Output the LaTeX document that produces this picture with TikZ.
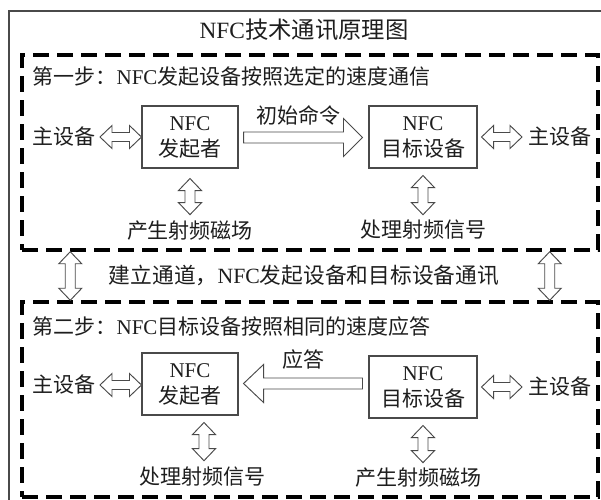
\documentclass[tikz,border=0pt]{standalone}
\usepackage{fontspec}
\setmainfont{Liberation Serif}
\newfontfamily\cjk{Noto Sans CJK SC}
\usetikzlibrary{calc}
\newcommand\zh[1]{{\cjk #1}}
\definecolor{ink}{HTML}{1E1E1E}
\definecolor{lineg}{HTML}{4A4A4A}
\tikzset{
  txt/.style={text=ink, inner sep=1pt, font=\fontsize{15.75}{19.5}\selectfont},
  devbox/.style={draw=lineg, line width=0.8pt, text=ink, align=center, inner sep=0pt,
    minimum height=46.5pt, font=\fontsize{15.75}{19.5}\selectfont},
  dashbox/.style={draw=black, line width=2.6pt, dash pattern=on 12pt off 6pt,
    minimum width=432pt, minimum height=146.25pt, inner sep=0pt},
  arr/.style={draw=lineg, line width=0.7pt, fill=white, line join=miter},
  frameline/.style={draw=lineg, line width=0.8pt}
}
% hollow horizontal double arrow, #1 left end, #2 right end
\newcommand\HDArrow[2]{\draw[arr] (#1) -- ($(#1)+(12,-11.5)$) -- ($(#1)+(12,-4.5)$) -- ($(#2)+(-12,-4.5)$) -- ($(#2)+(-12,-11.5)$) -- (#2) -- ($(#2)+(-12,11.5)$) -- ($(#2)+(-12,4.5)$) -- ($(#1)+(12,4.5)$) -- ($(#1)+(12,11.5)$) -- cycle;}
% hollow vertical double arrow, #1 top end, #2 bottom end
\newcommand\VDArrow[2]{\draw[arr] (#1) -- ($(#1)+(-11.5,12)$) -- ($(#1)+(-5,12)$) -- ($(#2)+(-5,-12)$) -- ($(#2)+(-11.5,-12)$) -- (#2) -- ($(#2)+(11.5,-12)$) -- ($(#2)+(5,-12)$) -- ($(#1)+(5,12)$) -- ($(#1)+(11.5,12)$) -- cycle;}
% big hollow single arrow pointing right: #1 tail, #2 tip
\newcommand\RArrow[2]{\draw[arr] ($(#1)+(0,-5.5)$) -- ($(#2)+(-19,-5.5)$) -- ($(#2)+(-19,-19)$) -- (#2) -- ($(#2)+(-19,19)$) -- ($(#2)+(-19,5.5)$) -- ($(#1)+(0,5.5)$) -- cycle;}
% big hollow single arrow pointing left: #1 tail (right), #2 tip (left)
\newcommand\LArrow[2]{\draw[arr] ($(#1)+(0,-5.5)$) -- ($(#2)+(20,-5.5)$) -- ($(#2)+(20,-19)$) -- (#2) -- ($(#2)+(20,19)$) -- ($(#2)+(20,5.5)$) -- ($(#1)+(0,5.5)$) -- cycle;}
\begin{document}
\begin{tikzpicture}[x=0.75pt,y=-0.75pt]
\useasboundingbox (0,0) rectangle (601,500);
\fill[white] (0,0) rectangle (601,500);
\draw[frameline] (9,500) -- (9,11) -- (601,11);

\node[txt, font=\fontsize{17.5}{20}\selectfont] (title) at (304,30) {NFC\zh{技术通讯原理图}};

% ---------- step 1 ----------
\node[dashbox] (step1) at (310,152.5) {};
\node[txt, anchor=west] (s1text) at (31,77) {\zh{第一步：}NFC\zh{发起设备按照选定的速度通信}};

\node[devbox, minimum width=72pt] (init1) at (190,137) {NFC\\\zh{发起者}};
\node[devbox, minimum width=81pt] (targ1) at (423,137) {NFC\\\zh{目标设备}};

\node[txt, anchor=east] (hostL1) at (97,137) {\zh{主设备}};
\node[txt, anchor=west] (hostR1) at (527,137) {\zh{主设备}};
\coordinate (hl1a) at ($(hostL1.east)+(3,0)$);
\HDArrow{hl1a}{init1.west}
\coordinate (hr1a) at ($(targ1.east)+(4,0)$);
\coordinate (hr1b) at ($(hostR1.west)+(-5,0)$);
\HDArrow{hr1a}{hr1b}

\coordinate (c1a) at ($(init1.east)+(5,0.5)$);
\coordinate (c1b) at ($(targ1.west)+(-6,0.5)$);
\RArrow{c1a}{c1b}
\node[txt] (cmd) at (298,115) {\zh{初始命令}};

\node[txt] (gen1) at (190,231) {\zh{产生射频磁场}};
\node[txt] (proc1) at (423,230) {\zh{处理射频信号}};
\coordinate (v1a) at ($(init1.south)+(0,10)$);
\coordinate (v1b) at ($(gen1.north)+(0,-5)$);
\VDArrow{v1a}{v1b}
\coordinate (v2a) at ($(targ1.south)+(0,7)$);
\coordinate (v2b) at ($(proc1.north)+(0,-4)$);
\VDArrow{v2a}{v2b}

% ---------- middle ----------
\node[dashbox] (step2) at (310,399.5) {};
\node[txt, font=\fontsize{16.3}{19.5}\selectfont] (link) at (304,275) {\zh{建立通道，}NFC\zh{发起设备和目标设备通讯}};
\coordinate (m1a) at ($(step1.south west)+(50,0)$);
\coordinate (m1b) at ($(step2.north west)+(50,0)$);
\VDArrow{m1a}{m1b}
\coordinate (m2a) at ($(step1.south east)+(-50,0)$);
\coordinate (m2b) at ($(step2.north east)+(-50,0)$);
\VDArrow{m2a}{m2b}

% ---------- step 2 ----------
\node[txt, anchor=west] (s2text) at (31,327) {\zh{第二步：}NFC\zh{目标设备按照相同的速度应答}};

\node[devbox, minimum width=72pt] (init2) at (190,384) {NFC\\\zh{发起者}};
\node[devbox, minimum width=81pt] (targ2) at (423,387) {NFC\\\zh{目标设备}};

\node[txt, anchor=east] (hostL2) at (97,385) {\zh{主设备}};
\node[txt, anchor=west] (hostR2) at (527,387) {\zh{主设备}};
\coordinate (hl2a) at ($(hostL2.east)+(3,0)$);
\coordinate (hl2b) at (init2.west |- hl2a);
\HDArrow{hl2a}{hl2b}
\coordinate (hr2a) at ($(targ2.east)+(4,0)$);
\coordinate (hr2b) at ($(hostR2.west)+(-5,0)$);
\HDArrow{hr2a}{hr2b}

\coordinate (c2a) at ($(targ2.west)+(-6,-3.5)$);
\coordinate (c2b) at ($(init2.east |- c2a)+(5,0)$);
\LArrow{c2a}{c2b}
\node[txt] (ans) at (303,360) {\zh{应答}};

\node[txt] (proc2) at (202,477) {\zh{处理射频信号}};
\node[txt] (gen2) at (418,478) {\zh{产生射频磁场}};
\coordinate (v3a) at ($(init2.south)+(14,7)$);
\coordinate (v3b) at ($(proc2.north -| v3a)+(0,-5)$);
\VDArrow{v3a}{v3b}
\coordinate (v4a) at ($(targ2.south)+(0,7)$);
\coordinate (v4b) at ($(gen2.north -| v4a)+(0,-4)$);
\VDArrow{v4a}{v4b}
\end{tikzpicture}
\end{document}
